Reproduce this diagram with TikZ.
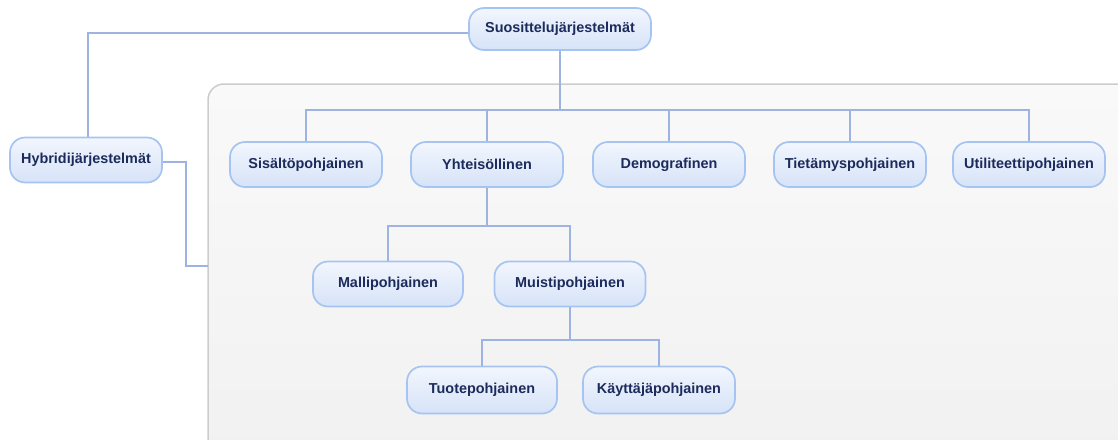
\documentclass[tikz,border=0pt]{standalone}
\usepackage{fontspec}
\setmainfont{Liberation Sans}
\definecolor{linec}{HTML}{9DB4E2}
\definecolor{nodeb}{HTML}{A6C4F2}
\definecolor{nodetop}{HTML}{F2F6FE}
\definecolor{nodebot}{HTML}{D6E3F7}
\definecolor{txtc}{HTML}{1C2B5C}
\definecolor{contb}{HTML}{CCCCCC}
\definecolor{conttop}{HTML}{F9F9F9}
\definecolor{contbot}{HTML}{F1F1F1}
\begin{document}
\begin{tikzpicture}[x=1pt,y=-1pt,
  box/.style={draw=nodeb, line width=1.7pt, rounded corners=15pt, top color=nodetop, bottom color=nodebot,
    minimum width=152pt, minimum height=45pt, inner sep=0pt,
    font=\fontsize{14.4}{16}\selectfont\bfseries, text=txtc},
  conn/.style={draw=linec, line width=1.9pt}]
\useasboundingbox (0,0) rectangle (1118,439);
\begin{scope}
\clip (0,0) rectangle (1118,439);
\draw[draw=contb, line width=1.5pt, rounded corners=16pt, top color=conttop, bottom color=contbot]
  (208,84) rectangle (1140,460);
\end{scope}
% nodes
\node[box, minimum width=182pt, minimum height=42pt] (S) at (560,29) {Suosittelujärjestelmät};
\node[box] (H) at (86,160) {Hybridijärjestelmät};
\node[box] (A1) at (306,164.5) {Sisältöpohjainen};
\node[box] (A2) at (487,164.5) {Yhteisöllinen};
\node[box] (A3) at (669,164.5) {Demografinen};
\node[box] (A4) at (850,164.5) {Tietämyspohjainen};
\node[box] (A5) at (1029,164.5) {Utiliteettipohjainen};
\node[box, minimum width=150pt] (B1) at (388,284) {Mallipohjainen};
\node[box, minimum width=151pt] (B2) at (570,284) {Muistipohjainen};
\node[box, minimum width=150pt, minimum height=47pt] (C1) at (482,390) {Tuotepohjainen};
\node[box, minimum height=47pt] (C2) at (659,390) {Käyttäjäpohjainen};
\coordinate (cont) at (208,266);
% connectors
\draw[conn] (S.south) -- (560,110) coordinate (bA);
\foreach \n in {A1,A2,A3,A4,A5} \draw[conn] (\n.north) |- (bA);
\draw[conn] (A2.south) -- (487,226) coordinate (bB);
\foreach \n in {B1,B2} \draw[conn] (\n.north) |- (bB);
\draw[conn] (B2.south) -- (570,340) coordinate (bC);
\foreach \n in {C1,C2} \draw[conn] (\n.north) |- (bC);
\draw[conn] (S.west |- 0,33) -| (H.north -| 88,0);
\draw[conn] (H.east |- 0,162) -| (186,266) -- (cont);
\end{tikzpicture}
\end{document}
